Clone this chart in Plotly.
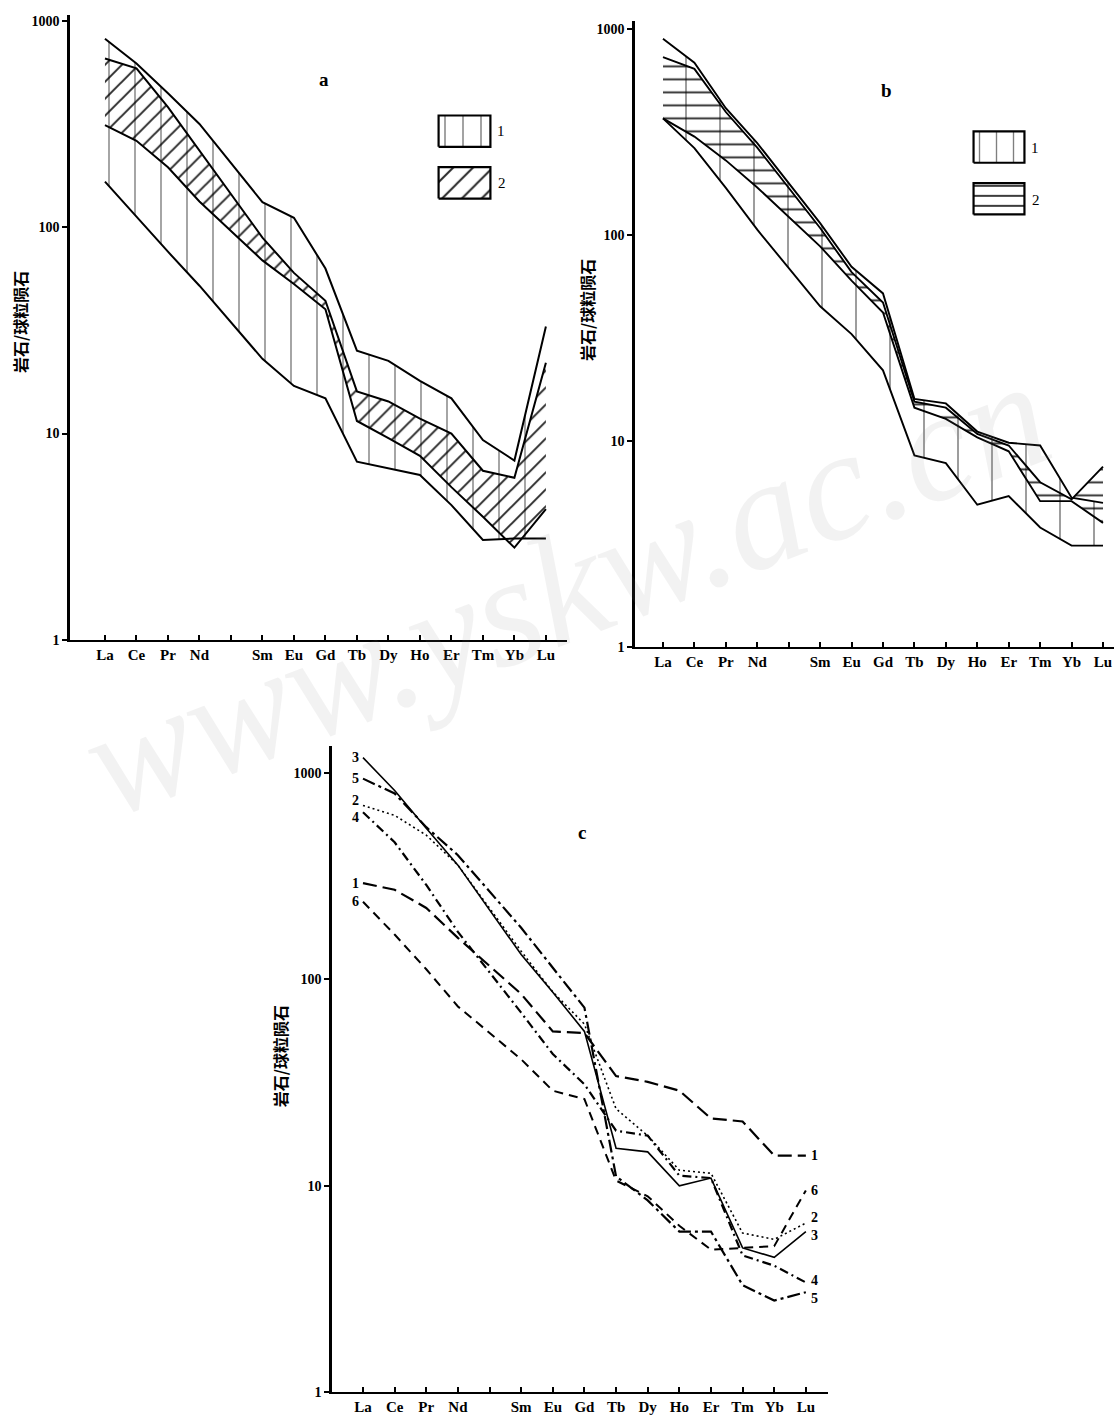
import math
import plotly.graph_objects as go

W, H = 1120, 1422

# ---------------- data ----------------
slots = ["La", "Ce", "Pr", "Nd", "Pm", "Sm", "Eu", "Gd", "Tb", "Dy", "Ho", "Er", "Tm", "Yb", "Lu"]
tick_text = ["La", "Ce", "Pr", "Nd", "", "Sm", "Eu", "Gd", "Tb", "Dy", "Ho", "Er", "Tm", "Yb", "Lu"]
ree = ["La", "Ce", "Pr", "Nd", "Sm", "Eu", "Gd", "Tb", "Dy", "Ho", "Er", "Tm", "Yb", "Lu"]
y_tickvals = [1, 10, 100, 1000]
y_ticktext = ["1", "10", "100", "1000"]

# panel a: field 1 (dotted) and field 2 (dashed) envelopes
a_f1_upper = [818, 620, 445, 316, 132, 111, 63, 25.2, 22.5, 18, 14.8, 9.3, 7.4, 33]
a_f1_lower = [166, 112, 76, 52, 23, 17, 14.8, 7.3, 6.8, 6.3, 4.5, 3.05, 3.1, 3.1]
a_f2_upper = [656, 588, 381, 234, 89, 60, 44, 16, 14.3, 11.8, 10, 6.6, 6.1, 22]
a_f2_lower = [312, 262, 195, 133, 69, 53, 40, 11.5, 9.5, 7.8, 5.5, 3.95, 2.8, 4.3]

# panel b
b_f1_upper = [896, 686, 412, 279, 114, 70, 52, 16, 15.2, 11.1, 9.8, 9.5, 5.3, 5.0]
b_f1_lower = [368, 264, 169, 106, 45, 33, 22, 8.5, 7.8, 4.9, 5.4, 3.8, 3.1, 3.1]
b_f2_upper = [730, 640, 395, 265, 108, 66, 47, 15.5, 14.5, 10.8, 9.5, 6.3, 5.2, 7.5]
b_f2_lower = [368, 300, 230, 170, 88, 60, 42, 14.5, 12.8, 10.4, 8.9, 5.1, 5.1, 4.0]

# panel c: samples 1-6
c_labels = ["1", "2", "3", "4", "5", "6"]
c1 = [293, 272, 222, 159, 85, 56, 55, 34, 31.9, 28.9, 21.2, 20.5, 14.0, 14.0]
c2 = [697, 624, 500, 358, 137, 87, 60.7, 23.6, 17.5, 11.9, 11.5, 5.9, 5.5, 6.6]
c3 = [1188, 824, 540, 358, 132, 86.6, 56, 15.2, 14.6, 10.0, 10.9, 5.0, 4.5, 6.0]
c4 = [646, 462, 287, 170, 69, 43.5, 31, 18.5, 17.5, 11.2, 10.9, 4.6, 4.1, 3.4]
c5 = [940, 796, 547, 400, 178, 114, 73, 11.1, 8.5, 6.0, 6.0, 3.3, 2.78, 3.05]
c6 = [238, 165, 112, 74, 41, 28.9, 26.3, 10.6, 8.9, 6.4, 4.9, 5.0, 5.1, 9.5]
c_series = [c1, c2, c3, c4, c5, c6]

# styles
c_dash = ["14px,6px", "2px,3px", "solid", "9px,4px,2px,4px", "13px,4px,3px,4px", "9px,6px"]
c_width = [2.2, 1.6, 1.6, 2.2, 2.2, 2.0]
c_left_shift = [0, 5, 0, -5, 0, 0]
c_right_shift = [0, 6, -4, 2, -6, 0]

ytitle = "岩石/球粒陨石"

X = [slots.index(e) for e in ree]

SERIF = "Liberation Serif"


def px_x(p):
    return p / W


def px_y(p):
    return 1 - p / H


fig = go.Figure()


def band(xa, ya, upper, lower, pattern):
    fig.add_trace(go.Scatter(
        x=X + X[::-1], y=upper + lower[::-1], xaxis=xa, yaxis=ya,
        mode="none", fill="toself", fillcolor="rgba(0,0,0,0)",
        fillpattern=pattern, hoverinfo="skip", showlegend=False))


def line(xa, ya, vals, width=2.0, dash="solid", color="black"):
    fig.add_trace(go.Scatter(
        x=X, y=vals, xaxis=xa, yaxis=ya, mode="lines",
        line=dict(color=color, width=width, dash=dash),
        hoverinfo="skip", showlegend=False))


pat_vdot = dict(shape="|", size=26, solidity=0.06, fgcolor="black", fgopacity=0.45,
                bgcolor="rgba(0,0,0,0)")
pat_diag = dict(shape="/", size=12, solidity=0.16, fgcolor="black", fgopacity=0.85,
                bgcolor="rgba(0,0,0,0)")
pat_bdot = dict(shape="|", size=34, solidity=0.05, fgcolor="black", fgopacity=0.45,
                bgcolor="rgba(0,0,0,0)")
pat_hdash = dict(shape="-", size=13, solidity=0.15, fgcolor="black", fgopacity=0.8,
                 bgcolor="rgba(0,0,0,0)")

# panel a
band("x", "y", a_f1_upper, a_f1_lower, pat_vdot)
band("x", "y", a_f2_upper, a_f2_lower, pat_diag)
for s in (a_f1_upper, a_f1_lower, a_f2_upper, a_f2_lower):
    line("x", "y", s, 2.0)

# panel b
band("x2", "y2", b_f1_upper, b_f1_lower, pat_bdot)
band("x2", "y2", b_f2_upper, b_f2_lower, pat_hdash)
for s in (b_f1_upper, b_f1_lower, b_f2_upper, b_f2_lower):
    line("x2", "y2", s, 1.9)

# panel c
for s, d, w in zip(c_series, c_dash, c_width):
    line("x3", "y3", s, w, d)

# legend swatches (own small axes)
sw_x = [0, 1, 1, 0, 0]
sw_y = [0, 0, 1, 1, 0]
swatches = [
    ("x4", "y4", dict(shape="|", size=18, solidity=0.08, fgcolor="black", fgopacity=0.5,
                      bgcolor="rgba(0,0,0,0)")),
    ("x5", "y5", dict(shape="/", size=14, solidity=0.14, fgcolor="black", fgopacity=0.85,
                      bgcolor="rgba(0,0,0,0)")),
    ("x6", "y6", dict(shape="|", size=17, solidity=0.08, fgcolor="black", fgopacity=0.5,
                      bgcolor="rgba(0,0,0,0)")),
    ("x7", "y7", dict(shape="-", size=10, solidity=0.18, fgcolor="black", fgopacity=0.85,
                      bgcolor="rgba(0,0,0,0)")),
]
for xa, ya, pat in swatches:
    fig.add_trace(go.Scatter(x=sw_x, y=sw_y, xaxis=xa, yaxis=ya, mode="lines",
                             line=dict(color="black", width=2.2), fill="toself",
                             fillcolor="rgba(0,0,0,0)", fillpattern=pat,
                             hoverinfo="skip", showlegend=False))

xcommon = dict(showline=True, linecolor="black", linewidth=2, ticks="inside", ticklen=5,
               tickwidth=1.5, tickcolor="black", tickmode="array",
               tickvals=list(range(len(slots))), ticktext=tick_text,
               tickfont=dict(family=SERIF, size=15, color="black", weight="bold"),
               showgrid=False, zeroline=False, fixedrange=True)
ycommon = dict(type="log", showline=True, linecolor="black", linewidth=2.5, ticks="outside",
               ticklen=5, tickwidth=1.5, tickcolor="black", tickmode="array",
               tickvals=y_tickvals, ticktext=y_ticktext,
               tickfont=dict(family=SERIF, size=14, color="black", weight="bold"),
               showgrid=False, zeroline=False, fixedrange=True)

layout = dict(
    width=W, height=H, margin=dict(l=0, r=0, t=0, b=0),
    paper_bgcolor="white", plot_bgcolor="rgba(0,0,0,0)", showlegend=False,
    xaxis=dict(xcommon, domain=[px_x(70), px_x(567)], range=[-1.11, 14.67], anchor="y"),
    yaxis=dict(ycommon, domain=[px_y(643), px_y(14)], range=[0, 3.028], anchor="x"),
    xaxis2=dict(xcommon, domain=[px_x(635), px_x(1114)], range=[-0.89, 14.35], anchor="y2"),
    yaxis2=dict(ycommon, domain=[px_y(650), px_y(20)], range=[0, 3.039], anchor="x2"),
    xaxis3=dict(xcommon, domain=[px_x(332), px_x(828)], range=[-0.98, 14.70], anchor="y3"),
    yaxis3=dict(ycommon, domain=[px_y(1400), px_y(750)], range=[0, 3.13], anchor="x3"),
)

boxes = {
    4: (438, 491, 115, 147),
    5: (438, 491, 167, 199),
    6: (973, 1025, 131, 163),
    7: (973, 1025, 183, 215),
}
for i, (x0, x1, y0, y1) in boxes.items():
    layout[f"xaxis{i}"] = dict(domain=[px_x(x0 - 2), px_x(x1 + 2)], range=[-0.05, 1.05],
                               visible=False, fixedrange=True, anchor=f"y{i}")
    layout[f"yaxis{i}"] = dict(domain=[px_y(y1 + 2), px_y(y0 - 2)], range=[-0.07, 1.07],
                               visible=False, fixedrange=True, anchor=f"x{i}")

fig.update_layout(**layout)

ann = []
# watermark
ann.append(dict(text="www.yskw.ac.cn", xref="paper", yref="paper", x=px_x(565), y=px_y(590),
                xanchor="center", yanchor="middle", showarrow=False, textangle=-21,
                font=dict(family=SERIF, size=158, color="rgba(130,130,130,0.10)", style="italic")))
# panel letters
for t, x, y in (("a", 324, 79), ("b", 886, 90), ("c", 582, 837)):
    ann.append(dict(text=t, xref="paper", yref="paper", x=px_x(x), y=px_y(y),
                    xanchor="center", yanchor="middle", showarrow=False,
                    font=dict(family=SERIF, size=19, color="black", weight="bold")))
# legend numbers
for t, x, y in (("1", 501, 131), ("2", 502, 183), ("1", 1035, 148), ("2", 1036, 200)):
    ann.append(dict(text=t, xref="paper", yref="paper", x=px_x(x), y=px_y(y),
                    xanchor="center", yanchor="middle", showarrow=False,
                    font=dict(family=SERIF, size=15, color="black")))
# y titles
for x, y in ((20, 323), (587, 311), (280, 1062)):
    ann.append(dict(text=ytitle, xref="paper", yref="paper", x=px_x(x), y=px_y(y),
                    xanchor="center", yanchor="middle", showarrow=False, textangle=-90,
                    font=dict(family="Noto Sans CJK SC", size=16, color="black", weight="bold")))
# series labels in panel c
for lab, s, ls, rs in zip(c_labels, c_series, c_left_shift, c_right_shift):
    ann.append(dict(text=lab, xref="x3", yref="y3", x=X[0], y=math.log10(s[0]),
                    xanchor="right", yanchor="middle", xshift=-2, yshift=ls, showarrow=False,
                    font=dict(family=SERIF, size=14, color="black", weight="bold")))
    ann.append(dict(text=lab, xref="x3", yref="y3", x=X[-1], y=math.log10(s[-1]),
                    xanchor="left", yanchor="middle", xshift=3, yshift=rs, showarrow=False,
                    font=dict(family=SERIF, size=14, color="black", weight="bold")))
fig.update_layout(annotations=ann)

fig.write_html("out.html", config={"displayModeBar": False},
               post_script="document.body.style.margin='0';document.body.style.overflow='hidden';")
